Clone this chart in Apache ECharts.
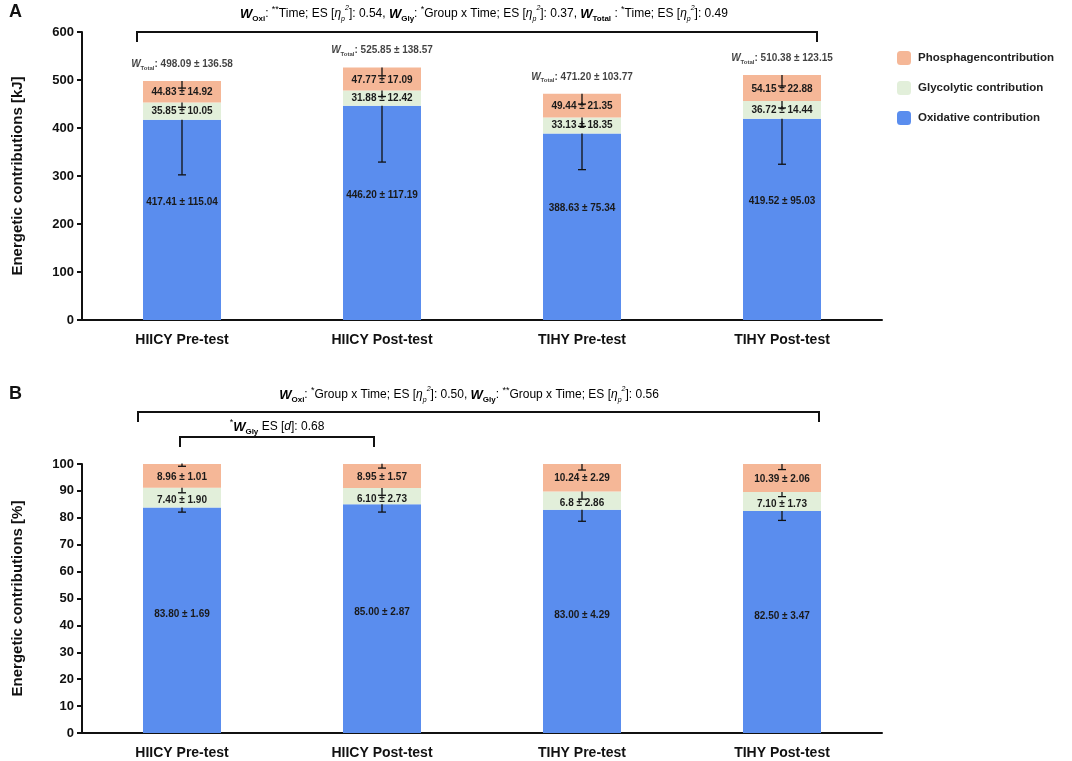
<!DOCTYPE html>
<html>
<head>
<meta charset="utf-8">
<script src="https://cdn.jsdelivr.net/npm/echarts@6/dist/echarts.min.js"></script>
<style>
html, body { margin: 0; padding: 0; background: #fff; }
#chart { width: 1072px; height: 761px; }
</style>
</head>
<body>
<div id="chart"></div>
<script>
var categories = ['HIICY Pre-test', 'HIICY Post-test', 'TIHY Pre-test', 'TIHY Post-test'];

// panel A, kJ
var kjOxi = [417.41, 446.20, 388.63, 419.52];
var kjOxiSd = [115.04, 117.19, 75.34, 95.03];
var kjGly = [35.85, 31.88, 33.13, 36.72];
var kjGlySd = [10.05, 12.42, 18.35, 14.44];
var kjPho = [44.83, 47.77, 49.44, 54.15];
var kjPhoSd = [14.92, 17.09, 21.35, 22.88];
var kjTotal = [498.09, 525.85, 471.20, 510.38];
var kjTotalSd = [136.58, 138.57, 103.77, 123.15];

// panel B, %
var pctOxi = [83.80, 85.00, 83.00, 82.50];
var pctOxiSd = [1.69, 2.87, 4.29, 3.47];
var pctGly = [7.40, 6.10, 6.8, 7.10];
var pctGlySd = [1.90, 2.73, 2.86, 1.73];
var pctGlyDigits = [2, 2, 1, 2];
var pctPho = [8.96, 8.95, 10.24, 10.39];
var pctPhoSd = [1.01, 1.57, 2.29, 2.06];

var kjTicks = [0, 100, 200, 300, 400, 500, 600];
var pctTicks = [0, 10, 20, 30, 40, 50, 60, 70, 80, 90, 100];

var colOxi = '#5A8DEE';
var colGly = '#E2EFDA';
var colPho = '#F5B797';
var font = '"Liberation Sans", Arial, sans-serif';

function pm(v, sd, d) {
    return v.toFixed(d == null ? 2 : d) + ' \u00b1 ' + sd.toFixed(2);
}

function add(a, b) {
    return a.map(function (v, i) { return v + b[i]; });
}

// error bars, minus direction only, drawn from the top of each segment
function errData(tops, sds) {
    return tops.map(function (t, i) { return [i, t, sds[i]]; });
}

function errRender(params, api) {
    var x = api.value(0);
    var top = api.value(1);
    var sd = api.value(2);
    var p1 = api.coord([x, top]);
    var p2 = api.coord([x, top - sd]);
    var style = { stroke: '#111', lineWidth: 1.3 };
    return {
        type: 'group',
        children: [
            { type: 'line', shape: { x1: p1[0], y1: p1[1], x2: p2[0], y2: p2[1] }, style: style },
            { type: 'line', shape: { x1: p2[0] - 4, y1: p2[1], x2: p2[0] + 4, y2: p2[1] }, style: style }
        ]
    };
}

function errSeries(xi, tops, sds) {
    return {
        type: 'custom',
        xAxisIndex: xi, yAxisIndex: xi,
        renderItem: errRender,
        encode: { x: 0, y: 1 },
        data: errData(tops, sds),
        clip: false,
        z: 10,
        silent: true
    };
}

var segLabel = { show: true, color: '#1a1a1a', fontFamily: font, fontWeight: 'bold', fontSize: 10 };

function barSeries(name, color, xi, vals, sds, offs, digits) {
    return {
        name: name,
        type: 'bar',
        stack: 'p' + xi,
        xAxisIndex: xi, yAxisIndex: xi,
        barWidth: 78,
        itemStyle: { color: color },
        label: Object.assign({}, segLabel, {
            position: 'inside',
            offset: offs,
            formatter: function (p) {
                return pm(vals[p.dataIndex], sds[p.dataIndex], digits ? digits[p.dataIndex] : 2);
            }
        }),
        data: vals
    };
}

var totalLabels = kjTotal.map(function (v, i) { return [i, v]; });

var wRich = {
    wb: { fontFamily: font, fontWeight: 'bold', fontStyle: 'italic', fontSize: 13, color: '#111', lineHeight: 18 },
    ws: { fontFamily: font, fontWeight: 'bold', fontSize: 8, color: '#111', verticalAlign: 'bottom', lineHeight: 14 },
    n: { fontFamily: font, fontSize: 12, color: '#111', lineHeight: 18 },
    sp: { fontFamily: font, fontSize: 9, color: '#111', verticalAlign: 'top', lineHeight: 18 },
    it: { fontFamily: font, fontStyle: 'italic', fontSize: 12, color: '#111', lineHeight: 18 },
    sub: { fontFamily: font, fontStyle: 'italic', fontSize: 7, color: '#111', verticalAlign: 'bottom', lineHeight: 14 },
    sup: { fontFamily: font, fontStyle: 'italic', fontSize: 7, color: '#111', verticalAlign: 'top', lineHeight: 17 }
};

var eta = '{n|[}{it|\u03b7}{sub|p}{sup|2}{n|]}';
var headA = '{wb|W}{ws|Oxi}{n|: }{sp|**}{n|Time; ES }' + eta + '{n|: 0.54, }' +
    '{wb|W}{ws|Gly}{n|: }{sp|*}{n|Group x Time; ES }' + eta + '{n|: 0.37, }' +
    '{wb|W}{ws|Total}{n| : }{sp|*}{n|Time; ES }' + eta + '{n|: 0.49}';
var headB = '{wb|W}{ws|Oxi}{n|: }{sp|*}{n|Group x Time; ES }' + eta + '{n|: 0.50, }' +
    '{wb|W}{ws|Gly}{n|: }{sp|**}{n|Group x Time; ES }' + eta + '{n|: 0.56}';
var headB2 = '{sp|*}{wb|W}{ws|Gly}{n| ES [}{it|d}{n|]: 0.68}';

function yAxis(gi, name, ticks) {
    return {
        type: 'value',
        gridIndex: gi,
        min: ticks[0],
        max: ticks[ticks.length - 1],
        interval: ticks[1] - ticks[0],
        name: name,
        nameLocation: 'middle',
        nameGap: 57,
        nameTextStyle: { fontFamily: font, fontWeight: 'bold', fontSize: 15, color: '#111' },
        axisLine: { show: true, lineStyle: { color: '#111', width: 2 } },
        axisTick: { show: true, length: 5, lineStyle: { color: '#111', width: 2 } },
        axisLabel: { fontFamily: font, fontWeight: 'bold', fontSize: 13, color: '#111', margin: 8 },
        splitLine: { show: false }
    };
}

function xAxis(gi) {
    return {
        type: 'category',
        gridIndex: gi,
        data: categories,
        axisLine: { show: true, lineStyle: { color: '#111', width: 2 } },
        axisTick: { show: false },
        axisLabel: { fontFamily: font, fontWeight: 'bold', fontSize: 14, color: '#111', margin: 13 }
    };
}

var dom = document.getElementById('chart');
var myChart = echarts.init(dom);
var option = {
    animation: false,
    backgroundColor: '#fff',
    grid: [
        { left: 82, top: 32, width: 800, height: 288 },
        { left: 82, top: 464, width: 800, height: 269 }
    ],
    legend: {
        orient: 'vertical',
        left: 892,
        top: 46,
        itemWidth: 14,
        itemHeight: 14,
        itemGap: 16,
        icon: 'roundRect',
        data: ['Phosphagen contribution', 'Glycolytic contribution', 'Oxidative contribution'],
        formatter: function (n) { return n === 'Phosphagen contribution' ? 'Phosphagencontribution' : n; },
        textStyle: { fontFamily: font, fontWeight: 'bold', fontSize: 11.5, color: '#222', padding: [0, 0, 0, 2] }
    },
    xAxis: [xAxis(0), xAxis(1)],
    yAxis: [yAxis(0, 'Energetic contributions [kJ]', kjTicks), yAxis(1, 'Energetic contributions [%]', pctTicks)],
    series: [
        barSeries('Oxidative contribution', colOxi, 0, kjOxi, kjOxiSd, [0, -18]),
        barSeries('Glycolytic contribution', colGly, 0, kjGly, kjGlySd, [0, 0]),
        barSeries('Phosphagen contribution', colPho, 0, kjPho, kjPhoSd, [0, 1]),
        barSeries('Oxidative contribution', colOxi, 1, pctOxi, pctOxiSd, [0, -6]),
        barSeries('Glycolytic contribution', colGly, 1, pctGly, pctGlySd, [0, 3], pctGlyDigits),
        barSeries('Phosphagen contribution', colPho, 1, pctPho, pctPhoSd, [0, 1]),
        errSeries(0, kjOxi, kjOxiSd),
        errSeries(0, add(kjOxi, kjGly), kjGlySd),
        errSeries(0, add(add(kjOxi, kjGly), kjPho), kjPhoSd),
        errSeries(1, pctOxi, pctOxiSd),
        errSeries(1, add(pctOxi, pctGly), pctGlySd),
        errSeries(1, add(add(pctOxi, pctGly), pctPho), pctPhoSd),
        {
            type: 'scatter',
            xAxisIndex: 0, yAxisIndex: 0,
            symbolSize: 0,
            silent: true,
            data: totalLabels,
            label: {
                show: true,
                position: 'top',
                distance: 10,
                formatter: function (p) {
                    var i = p.dataIndex;
                    return '{w|W}{s|Total}{t|: ' + pm(kjTotal[i], kjTotalSd[i]) + '}';
                },
                rich: {
                    w: { fontFamily: font, fontWeight: 'bold', fontStyle: 'italic', fontSize: 10, color: '#111', lineHeight: 14 },
                    s: { fontFamily: font, fontWeight: 'bold', fontSize: 6, color: '#111', verticalAlign: 'bottom', lineHeight: 11 },
                    t: { fontFamily: font, fontWeight: 'bold', fontSize: 10, color: '#111', lineHeight: 14 }
                }
            }
        }
    ],
    graphic: [
        { type: 'text', left: 9, top: 3, style: { text: 'A', font: 'bold 18px ' + font, fill: '#111' } },
        { type: 'text', left: 9, top: 385, style: { text: 'B', font: 'bold 18px ' + font, fill: '#111' } },
        { type: 'text', x: 484, y: 14, style: { text: headA, rich: wRich, textAlign: 'center', textVerticalAlign: 'middle' } },
        { type: 'polyline', shape: { points: [[137, 42], [137, 32], [817, 32], [817, 42]] }, style: { stroke: '#111', lineWidth: 2, fill: null } },
        { type: 'text', x: 469, y: 395, style: { text: headB, rich: wRich, textAlign: 'center', textVerticalAlign: 'middle' } },
        { type: 'polyline', shape: { points: [[138, 422], [138, 412], [819, 412], [819, 422]] }, style: { stroke: '#111', lineWidth: 2, fill: null } },
        { type: 'text', x: 277, y: 427, style: { text: headB2, rich: wRich, textAlign: 'center', textVerticalAlign: 'middle' } },
        { type: 'polyline', shape: { points: [[180, 447], [180, 437], [374, 437], [374, 447]] }, style: { stroke: '#111', lineWidth: 2, fill: null } }
    ]
};
if (option && typeof option === "object") {
    myChart.setOption(option, true);
}
</script>
</body>
</html>
